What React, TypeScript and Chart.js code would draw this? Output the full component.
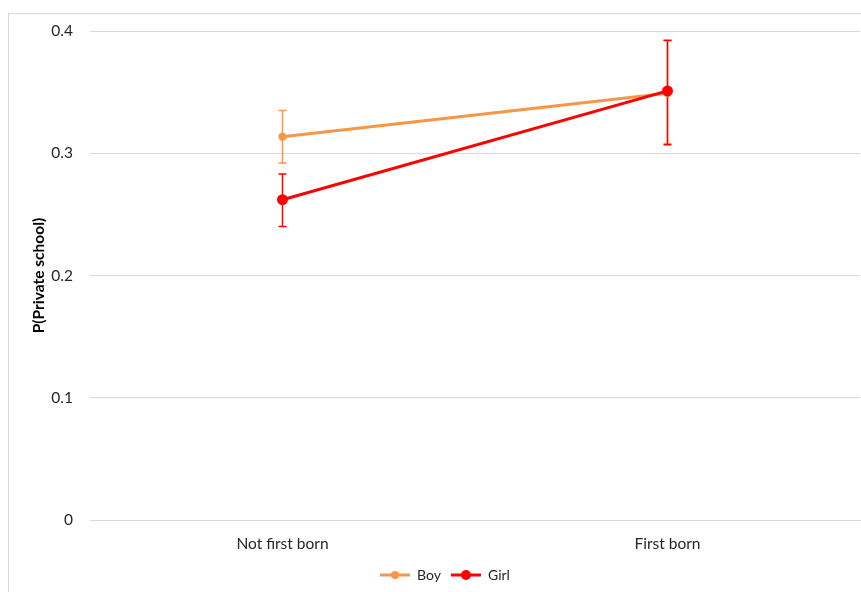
import React, { useEffect, useRef } from "react";
import { Chart, registerables } from "chart.js";

Chart.register(...registerables);

const categories = ["Not first born", "First born"];
const seriesNames = ["Boy", "Girl"];
const boyValues = [0.3135, 0.349];
const boyLow = [0.292, 0.308];
const boyHigh = [0.335, 0.392];
const girlValues = [0.262, 0.351];
const girlLow = [0.24, 0.307];
const girlHigh = [0.283, 0.3925];
const yTicks = [0, 0.1, 0.2, 0.3, 0.4];

const ORANGE = "#F79646";
const RED = "#FF0000";
const FONT = "Lato, 'Open Sans', sans-serif";

function makeLegendIcon(color: string, r: number): HTMLCanvasElement {
  const c = document.createElement("canvas");
  c.width = 30;
  c.height = 12;
  const g = c.getContext("2d")!;
  g.strokeStyle = color;
  g.lineWidth = 3;
  g.beginPath();
  g.moveTo(0, 6);
  g.lineTo(30, 6);
  g.stroke();
  g.fillStyle = color;
  g.beginPath();
  g.arc(15, 6, r, 0, Math.PI * 2);
  g.fill();
  return c;
}

const errorBarPlugin = {
  id: "errorBars",
  beforeDatasetsDraw(chart: any) {
    const ctx = chart.ctx;
    const yScale = chart.scales.y;
    const sets = [
      { idx: 0, low: boyLow, high: boyHigh, color: ORANGE },
      { idx: 1, low: girlLow, high: girlHigh, color: RED },
    ];
    ctx.save();
    sets.forEach((s) => {
      const meta = chart.getDatasetMeta(s.idx);
      meta.data.forEach((pt: any, j: number) => {
        const x = pt.x;
        const yl = yScale.getPixelForValue(s.low[j]);
        const yh = yScale.getPixelForValue(s.high[j]);
        ctx.strokeStyle = s.color;
        ctx.lineWidth = 1.5;
        ctx.beginPath();
        ctx.moveTo(x, yl);
        ctx.lineTo(x, yh);
        ctx.moveTo(x - 4, yl);
        ctx.lineTo(x + 4, yl);
        ctx.moveTo(x - 4, yh);
        ctx.lineTo(x + 4, yh);
        ctx.stroke();
      });
    });
    ctx.restore();
  },
};

export default function App() {
  const ref = useRef<HTMLCanvasElement>(null);
  useEffect(() => {
    if (!ref.current) return;
    const icons = [makeLegendIcon(ORANGE, 4), makeLegendIcon(RED, 5)];
    const chart = new Chart(ref.current, {
      type: "line",
      data: {
        labels: categories,
        datasets: [
          {
            label: seriesNames[0],
            data: boyValues,
            borderColor: ORANGE,
            backgroundColor: ORANGE,
            borderWidth: 3,
            pointRadius: 4,
            pointBorderWidth: 0,
            pointHoverRadius: 4,
            order: 1,
          },
          {
            label: seriesNames[1],
            data: girlValues,
            borderColor: RED,
            backgroundColor: RED,
            borderWidth: 3,
            pointRadius: 5.5,
            pointBorderWidth: 0,
            pointHoverRadius: 5.5,
            order: 0,
          },
        ],
      },
      options: {
        animation: false,
        responsive: false,
        layout: { autoPadding: false, padding: { left: 21, right: 1, top: 17, bottom: 0 } },
        scales: {
          x: {
            offset: true,
            grid: { display: false, drawTicks: false },
            border: { display: true, color: "#d9d9d9", width: 1 },
            ticks: {
              padding: 15,
              color: "#262626",
              font: { family: FONT, size: 15.5 },
            },
            afterFit: (s: any) => {
              s.height = 38;
            },
          },
          y: {
            min: 0,
            max: 0.4,
            afterBuildTicks: (s: any) => {
              s.ticks = yTicks.map((v) => ({ value: v }));
            },
            grid: {
              color: "#d9d9d9",
              drawTicks: true,
              tickLength: 14,
              tickColor: "rgba(0,0,0,0)",
              lineWidth: 1,
            },
            border: { display: false },
            ticks: {
              padding: 3,
              color: "#262626",
              font: { family: FONT, size: 15.5 },
              callback: (v: any) => String(Math.round(Number(v) * 10) / 10),
            },
            title: {
              display: true,
              text: "P(Private school)",
              color: "#000",
              padding: { top: 0, bottom: 0 },
              font: { family: FONT, size: 15.5, weight: "bold" },
            },
            afterFit: (s: any) => {
              s.width = 60;
            },
          },
        },
        plugins: {
          tooltip: { enabled: false },
          legend: {
            position: "bottom",
            labels: {
              usePointStyle: true,
              pointStyleWidth: 30,
              padding: 10,
              color: "#262626",
              font: { family: FONT, size: 14 },
              generateLabels: () =>
                seriesNames.map((n, i) => ({
                  text: n,
                  pointStyle: icons[i] as any,
                  fillStyle: i === 0 ? ORANGE : RED,
                  strokeStyle: i === 0 ? ORANGE : RED,
                  lineWidth: 0,
                  hidden: false,
                  datasetIndex: i,
                  fontColor: "#262626",
                })),
            },
          },
        },
      },
      plugins: [errorBarPlugin],
    } as any);
    return () => chart.destroy();
  }, []);

  return (
    <div
      style={{
        position: "absolute",
        left: 8,
        top: 13,
        width: 853,
        height: 579,
        borderTop: "1px solid #d9d9d9",
        borderLeft: "1px solid #d9d9d9",
        boxSizing: "border-box",
        background: "#fff",
      }}
    >
      <canvas ref={ref} width={852} height={578} style={{ display: "block" }} />
    </div>
  );
}
